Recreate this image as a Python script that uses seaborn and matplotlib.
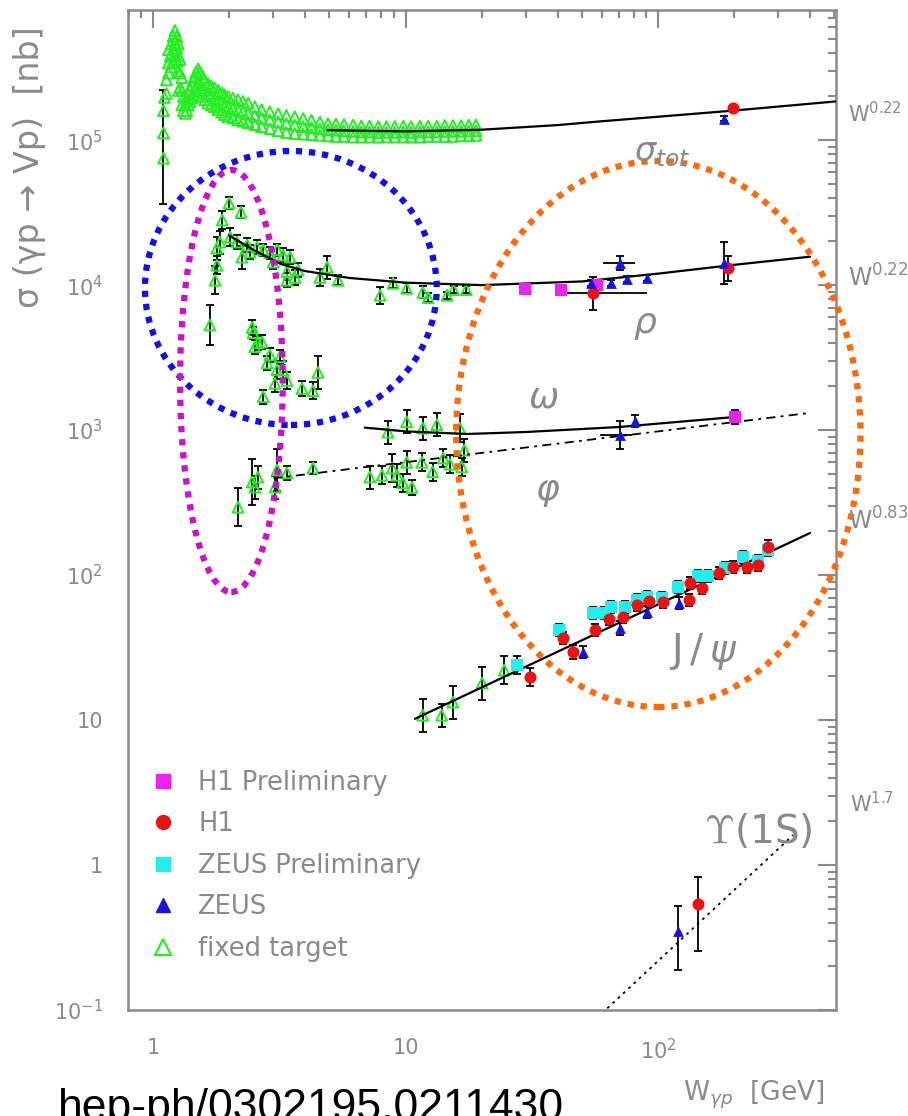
import numpy as np
import pandas as pd
import matplotlib
matplotlib.use("Agg")
import matplotlib.pyplot as plt
import matplotlib.ticker as mticker
from matplotlib.patches import Ellipse
from matplotlib.lines import Line2D
import seaborn as sns

# ---------------- data ----------------
# fixed-target total cross section, resonance region (W [GeV], sigma [nb])
tot_ft_peak = [(1.10, 7.5e4), (1.10, 1.12e5), (1.10, 1.6e5), (1.11, 1.97e5),
               (1.13, 2.6e5), (1.13, 2.1e5), (1.15, 3.4e5), (1.15, 4.2e5), (1.15, 2.9e5), (1.17, 3.8e5),
               (1.18, 4.6e5), (1.18, 3.2e5), (1.20, 5.2e5), (1.20, 4.2e5), (1.20, 3.5e5), (1.22, 5.7e5),
               (1.22, 4.7e5), (1.22, 3.9e5), (1.24, 5.2e5), (1.24, 4.3e5), (1.24, 3.5e5), (1.26, 4.6e5),
               (1.26, 3.8e5), (1.26, 3.0e5), (1.26, 2.2e5), (1.28, 3.6e5), (1.28, 2.9e5), (1.28, 2.3e5),
               (1.30, 2.7e5), (1.30, 2.2e5), (1.30, 1.75e5), (1.32, 2.0e5), (1.32, 1.6e5), (1.34, 1.75e5),
               (1.34, 1.53e5), (1.36, 1.9e5), (1.36, 1.6e5), (1.38, 2.1e5), (1.38, 1.75e5), (1.40, 2.25e5),
               (1.40, 1.85e5), (1.42, 2.4e5), (1.42, 1.95e5), (1.44, 2.55e5), (1.44, 2.05e5), (1.46, 2.75e5),
               (1.46, 2.2e5), (1.48, 2.95e5), (1.48, 2.3e5), (1.51, 3.1e5), (1.51, 2.5e5), (1.51, 2.0e5),
               (1.53, 2.95e5), (1.53, 2.3e5), (1.55, 2.85e5), (1.55, 2.2e5), (1.58, 2.7e5), (1.58, 2.1e5)]
# fixed-target total cross section, continuum: W, upper, middle and lower points of the band
tot_ft_band_w = [1.60, 1.65, 1.70, 1.75, 1.81, 1.87, 1.92, 1.98, 2.07, 2.17, 2.27, 2.38, 2.53, 2.69,
                 2.9, 3.13, 3.37, 3.64, 3.93, 4.24, 4.58, 4.93, 5.3, 5.7, 6.2, 6.68, 7.2, 7.8, 8.4,
                 9.06, 9.8, 10.5, 11.4, 12.3, 13.3, 14.3, 15.4, 16.6, 17.8, 19.0]
tot_ft_band_hi = [2.6e5, 2.45e5, 2.35e5, 2.3e5, 2.2e5, 2.12e5, 2.05e5, 2.0e5, 1.95e5, 1.9e5, 1.85e5,
                  1.8e5, 1.7e5, 1.62e5, 1.57e5, 1.52e5, 1.48e5, 1.45e5, 1.41e5, 1.37e5, 1.33e5, 1.3e5,
                  1.29e5, 1.28e5, 1.27e5, 1.25e5, 1.25e5, 1.24e5, 1.24e5, 1.24e5, 1.25e5, 1.24e5,
                  1.25e5, 1.25e5, 1.25e5, 1.26e5, 1.26e5, 1.26e5, 1.27e5, 1.27e5]
tot_ft_band_mid = [2.2e5, 2.1e5, 2.0e5, 1.95e5, 1.9e5, 1.82e5, 1.75e5, 1.7e5, 1.65e5, 1.6e5, 1.56e5,
                   1.52e5, 1.47e5, 1.42e5, 1.38e5, 1.34e5, 1.3e5, 1.27e5, 1.24e5, 1.22e5, 1.2e5, 1.18e5,
                   1.17e5, 1.16e5, 1.15e5, 1.14e5, 1.14e5, 1.13e5, 1.13e5, 1.13e5, 1.14e5, 1.13e5,
                   1.14e5, 1.14e5, 1.14e5, 1.15e5, 1.15e5, 1.15e5, 1.16e5, 1.16e5]
tot_ft_band_lo = [1.9e5, 1.8e5, 1.75e5, 1.7e5, 1.62e5, 1.56e5, 1.5e5, 1.45e5, 1.42e5, 1.38e5, 1.35e5,
                  1.32e5, 1.28e5, 1.24e5, 1.2e5, 1.16e5, 1.13e5, 1.11e5, 1.1e5, 1.09e5, 1.08e5, 1.07e5,
                  1.06e5, 1.06e5, 1.05e5, 1.05e5, 1.05e5, 1.05e5, 1.05e5, 1.05e5, 1.05e5, 1.05e5,
                  1.05e5, 1.06e5, 1.06e5, 1.06e5, 1.06e5, 1.07e5, 1.07e5, 1.08e5]
tot_ft_err = [(1.10, 7.5e4, 3.6e4, 2.2e5)]  # W, sigma, low, high

# fixed-target rho (W, sigma, relative error)
rho_ft = [(1.68, 5.3e3, 0.38), (1.76, 1.08e4, 0.25), (1.79, 1.37e4, 0.15), (1.79, 1.8e4, 0.2),
          (1.84, 1.98e4, 0.2), (1.88, 2.81e4, 0.15), (2.00, 3.68e4, 0.1), (2.23, 3.18e4, 0.1),
          (2.02, 2.14e4, 0.15), (2.15, 1.98e4, 0.12), (2.36, 1.89e4, 0.12), (2.42, 1.69e4, 0.12),
          (2.25, 1.56e4, 0.2), (2.58, 1.83e4, 0.12), (2.73, 1.75e4, 0.1), (2.9, 1.67e4, 0.1),
          (3.1, 1.75e4, 0.1), (3.27, 1.61e4, 0.12), (3.49, 1.56e4, 0.12), (2.99, 1.44e4, 0.12),
          (3.39, 1.24e4, 0.15), (3.75, 1.27e4, 0.12), (3.65, 1.13e4, 0.12), (3.39, 1.08e4, 0.12),
          (4.58, 1.13e4, 0.15), (4.89, 1.33e4, 0.2), (5.40, 1.08e4, 0.08), (7.93, 8.5e3, 0.15),
          (8.93, 1.03e4, 0.08), (10.1, 9.5e3, 0.08), (11.7, 8.9e3, 0.1), (12.3, 8.2e3, 0.08),
          (14.6, 8.5e3, 0.06), (15.5, 9.3e3, 0.06), (17.4, 9.3e3, 0.06)]

# fixed-target omega
omega_ft = [(2.47, 5.1e3, 0.12), (2.49, 4.7e3, 0.1), (2.60, 4.0e3, 0.12), (2.53, 3.75e3, 0.12),
            (2.70, 4.05e3, 0.12), (2.90, 3.3e3, 0.12), (2.83, 2.9e3, 0.12), (3.1, 2.6e3, 0.15),
            (3.04, 2.1e3, 0.15), (3.18, 3.2e3, 0.12), (3.27, 2.6e3, 0.15), (3.39, 2.2e3, 0.15),
            (2.73, 1.7e3, 0.12), (3.89, 1.94e3, 0.12), (4.3, 1.87e3, 0.15), (4.5, 2.5e3, 0.3),
            (8.51, 968, 0.2), (10.1, 1.14e3, 0.2), (11.7, 1.03e3, 0.2), (13.3, 1.09e3, 0.2),
            (16.4, 1.03e3, 0.25)]

# fixed-target phi
phi_ft = [(2.17, 294, 0.35), (2.47, 438, 0.45), (2.6, 474, 0.2), (2.53, 404, 0.2), (3.1, 530, 0.4),
          (3.04, 404, 0.2), (3.39, 507, 0.12), (4.3, 547, 0.1), (7.22, 474, 0.2), (8.07, 488, 0.15),
          (8.85, 547, 0.25), (9.25, 488, 0.2), (10.1, 600, 0.2), (9.75, 432, 0.15), (10.6, 402, 0.12),
          (11.6, 600, 0.15), (12.8, 516, 0.15), (14.1, 642, 0.15), (15.0, 581, 0.15), (16.7, 558, 0.15),
          (17.1, 727, 0.2)]

# fixed-target J/psi
jpsi_ft = [(11.7, 10.8, 0.3), (13.9, 10.8, 0.2), (15.4, 13.3, 0.3), (20.1, 18.0, 0.3), (24.6, 22.1, 0.25)]

# H1 (W, sigma, relative error)
h1 = [(199, 1.66e5, 0.04), (55.3, 8.8e3, 0.3), (189, 1.31e4, 0.22),
      (31.0, 19.8, 0.15), (42.1, 36.8, 0.1), (46.0, 29.4, 0.12), (56.3, 41.8, 0.1), (64.2, 49.8, 0.1),
      (72.6, 51.3, 0.1), (82.6, 62.5, 0.1), (92.1, 66.2, 0.1), (105, 65.2, 0.1), (133, 67.3, 0.1),
      (134, 88.1, 0.1), (149, 81.3, 0.1), (175, 103, 0.1), (198, 114, 0.1), (225, 114, 0.1),
      (249, 117, 0.1), (273, 156, 0.12)]
h1_ups = [(144, 0.54, 0.255, 0.83)]
h1_xbins = [(55.3, 8.8e3, 42.9, 90.3)]

# H1 preliminary
h1_prel = [(29.8, 9.4e3, 0.05), (41.2, 9.3e3, 0.05), (57.3, 1.0e4, 0.05), (202, 1.23e3, 0.12)]

# ZEUS preliminary
zeus_prel = [(27.6, 23.9, 0.15), (40.5, 41.8, 0.1), (55.3, 54.7, 0.1), (61.2, 54.7, 0.1),
             (65.2, 60.1, 0.1), (74.2, 60.1, 0.1), (82.6, 67.3, 0.1), (90.3, 70.5, 0.1),
             (104, 69.4, 0.1), (120, 82.7, 0.1), (144, 98.4, 0.1), (158, 98.4, 0.1),
             (185, 112, 0.1), (217, 133, 0.1), (249, 125, 0.1), (273, 150, 0.1)]

# ZEUS
zeus = [(183, 1.40e5, 0.04), (54.3, 1.03e4, 0.05), (65.2, 1.03e4, 0.05), (70.6, 1.42e4, 0.12),
        (75.5, 1.10e4, 0.05), (90.3, 1.12e4, 0.05), (182, 1.42e4, 0.4),
        (70.6, 925, 0.25), (81.1, 1.15e3, 0.1),
        (50.5, 29.4, 0.1), (70.6, 43.1, 0.12), (90.3, 55.6, 0.1), (121, 64.2, 0.1)]
zeus_ups = [(120, 0.35, 0.19, 0.52)]
zeus_xbins = [(70.6, 1.42e4, 60.6, 80.9), (70.6, 925, 59.0, 79.0)]

# fitted curves
fit_tot = [(4.9, 1.17e5), (10, 1.15e5), (20, 1.18e5), (40, 1.27e5), (60, 1.35e5),
           (100, 1.45e5), (200, 1.6e5), (507, 1.85e5)]
fit_rho = [(2.0, 2.2e4), (2.5, 1.75e4), (3.2, 1.4e4), (4.0, 1.25e4), (6.0, 1.12e4), (10, 1.04e4),
           (20, 1.0e4), (50, 1.06e4), (100, 1.2e4), (200, 1.38e4), (400, 1.57e4)]
fit_omega = [(6.9, 1.04e3), (10, 0.98e3), (17.5, 0.94e3), (30, 0.97e3), (70, 1.05e3), (200, 1.23e3)]
fit_phi = [(3.0, 465), (393, 1310)]
fit_jpsi = [(10.9, 10.2), (400, 195)]
fit_ups = [(60, 0.095), (343, 1.61)]

# ---------------- style ----------------
sns.set_theme(style="white")
plt.rcParams['font.family'] = ['DejaVu Sans']
plt.rcParams['mathtext.fontset'] = 'dejavusans'

GRAY = '#8a8a8a'
GREEN = '#22ee22'
MAGENTA = '#ee22ee'
RED = '#ee1111'
CYAN = '#22eeee'
BLUE = '#1414dd'

W, H = 908, 1116
fig = plt.figure(figsize=(W / 100, H / 100), dpi=100)
ax = fig.add_axes([128 / W, 1 - 1010 / H, 708 / W, 1000 / H])
ax.set_xscale('log')
ax.set_yscale('log')
ax.set_xlim(0.796, 507)
ax.set_ylim(0.1, 7.9e5)


def cols(rows, n):
    return [np.array([r[i] for r in rows], dtype=float) for i in range(n)]


def rel_errbars(rows, zorder=2):
    w, s, e = cols(rows, 3)
    ax.errorbar(w, s, yerr=[s - s / (1 + e), s * e], fmt='none', ecolor='black',
                elinewidth=1.3, capsize=3, capthick=1.3, zorder=zorder)


def abs_errbars(rows, zorder=2):
    w, s, lo, hi = cols(rows, 4)
    ax.errorbar(w, s, yerr=[s - lo, hi - s], fmt='none', ecolor='black',
                elinewidth=1.3, capsize=3, capthick=1.3, zorder=zorder)


def x_bins(rows):
    w, s, lo, hi = cols(rows, 4)
    ax.errorbar(w, s, xerr=[w - lo, hi - w], fmt='none', ecolor='black',
                elinewidth=1.3, capsize=0, zorder=2)


def curve(rows, dashes=None, lw=1.6):
    w, s = cols(rows, 2)
    sns.lineplot(x=w, y=s, ax=ax, color='black', linewidth=lw,
                 estimator=None, sort=False, zorder=4)
    if dashes is not None:
        ax.lines[-1].set_dashes(dashes)


curve(fit_tot)
curve(fit_rho)
curve(fit_omega)
curve(fit_phi, dashes=[5, 3, 1.5, 3], lw=1.3)
curve(fit_jpsi)
curve(fit_ups, dashes=[1.5, 2.5], lw=1.3)

# error bars
abs_errbars(tot_ft_err)
for grp in (rho_ft, omega_ft, phi_ft, jpsi_ft, h1, h1_prel, zeus_prel, zeus):
    rel_errbars(grp)
abs_errbars(h1_ups)
abs_errbars(zeus_ups)
x_bins(h1_xbins)
x_bins(zeus_xbins)

# fixed-target open triangles
ft_w = ([r[0] for r in tot_ft_peak] + tot_ft_band_w * 3 + [r[0] for r in rho_ft] +
        [r[0] for r in omega_ft] + [r[0] for r in phi_ft] + [r[0] for r in jpsi_ft])
ft_s = ([r[1] for r in tot_ft_peak] + tot_ft_band_hi + tot_ft_band_mid + tot_ft_band_lo +
        [r[1] for r in rho_ft] + [r[1] for r in omega_ft] + [r[1] for r in phi_ft] +
        [r[1] for r in jpsi_ft])
sns.scatterplot(x=ft_w, y=ft_s, ax=ax, marker='^', s=60, facecolor='none',
                edgecolor=GREEN, linewidth=1.4, zorder=3)

# collider points
sns.scatterplot(x=[r[0] for r in zeus_prel], y=[r[1] for r in zeus_prel], ax=ax, marker='s', s=80,
                color=CYAN, edgecolor=CYAN, linewidth=0, zorder=5)
sns.scatterplot(x=[r[0] for r in h1_prel], y=[r[1] for r in h1_prel], ax=ax, marker='s', s=70,
                color=MAGENTA, edgecolor=MAGENTA, linewidth=0, zorder=5)
sns.scatterplot(x=[r[0] for r in h1] + [r[0] for r in h1_ups],
                y=[r[1] for r in h1] + [r[1] for r in h1_ups], ax=ax, marker='o', s=75,
                color=RED, edgecolor=RED, linewidth=0, zorder=6)
sns.scatterplot(x=[r[0] for r in zeus] + [r[0] for r in zeus_ups],
                y=[r[1] for r in zeus] + [r[1] for r in zeus_ups], ax=ax, marker='^', s=60,
                color=BLUE, edgecolor=BLUE, linewidth=0, zorder=6)

# ---------------- axes styling ----------------
for sp in ax.spines.values():
    sp.set_color(GRAY)
    sp.set_linewidth(1.8)
ax.xaxis.set_major_locator(mticker.LogLocator(base=10, numticks=20))
ax.yaxis.set_major_locator(mticker.LogLocator(base=10, numticks=20))
ax.xaxis.set_minor_locator(mticker.LogLocator(base=10, subs=np.arange(2, 10), numticks=100))
ax.yaxis.set_minor_locator(mticker.LogLocator(base=10, subs=np.arange(2, 10), numticks=100))


def dec_fmt(v, pos):
    e = int(round(np.log10(v)))
    if e == 0:
        return '1'
    if e == 1:
        return '10'
    return r'$10^{%d}$' % e


ax.xaxis.set_major_formatter(mticker.FuncFormatter(dec_fmt))
ax.yaxis.set_major_formatter(mticker.FuncFormatter(dec_fmt))
ax.xaxis.set_minor_formatter(mticker.NullFormatter())
ax.yaxis.set_minor_formatter(mticker.NullFormatter())
ax.tick_params(which='both', direction='in', top=True, right=True, color=GRAY, labelcolor=GRAY)
ax.tick_params(which='major', length=13, width=1.5, labelsize=15)
ax.tick_params(which='minor', length=6, width=1.5)
ax.tick_params(axis='y', which='major', pad=18)
ax.tick_params(axis='x', which='major', pad=20)
ax.grid(False)

# legend
handles = [
    Line2D([], [], marker='s', linestyle='none', color=MAGENTA, markersize=10),
    Line2D([], [], marker='o', linestyle='none', color=RED, markersize=10),
    Line2D([], [], marker='s', linestyle='none', color=CYAN, markersize=10),
    Line2D([], [], marker='^', linestyle='none', color=BLUE, markersize=10),
    Line2D([], [], marker='^', linestyle='none', markerfacecolor='none',
           markeredgecolor=GREEN, markeredgewidth=1.5, markersize=12),
]
labels = ['H1 Preliminary', 'H1', 'ZEUS Preliminary', 'ZEUS', 'fixed target']
ax.legend(handles, labels, loc='upper left', bbox_to_anchor=(0.03, 0.24), frameon=False,
          fontsize=18.5, labelcolor=GRAY, handlelength=1.1, handletextpad=0.8,
          labelspacing=0.6, borderaxespad=0, borderpad=0)


# ---------------- annotations (figure pixel positions) ----------------
def fx(px):
    return px / W


def fy(py):
    return 1 - py / H


fig.text(fx(30), fy(167), 'σ (γp → Vp)  [nb]', rotation=90, ha='center', va='center',
         color=GRAY, fontsize=24)
fig.text(fx(683), fy(1095), r'W$_{\gamma p}$  [GeV]', ha='left', va='center', color=GRAY, fontsize=19)
fig.text(fx(58), fy(1120), 'hep-ph/0302195,0211430', ha='left', va='baseline', color='black',
         fontsize=32, family=['Liberation Sans', 'DejaVu Sans'])

fig.text(fx(848), fy(122), r'$\mathrm{W}^{0.22}$', ha='left', va='baseline', color=GRAY, fontsize=15)
fig.text(fx(848), fy(287), r'$\mathrm{W}^{0.22}$', ha='left', va='baseline', color=GRAY, fontsize=17)
fig.text(fx(848), fy(530), r'$\mathrm{W}^{0.83}$', ha='left', va='baseline', color=GRAY, fontsize=17)
fig.text(fx(850), fy(812), r'$\mathrm{W}^{1.7}$', ha='left', va='baseline', color=GRAY, fontsize=15)

fig.text(fx(662), fy(153), r'$\sigma_{tot}$', ha='center', va='center', color=GRAY, fontsize=24)
fig.text(fx(645), fy(325), r'$\rho$', ha='center', va='center', color=GRAY, fontsize=26)
fig.text(fx(543), fy(397), r'$\omega$', ha='center', va='center', color=GRAY, fontsize=26)
fig.text(fx(548), fy(492), r'$\varphi$', ha='center', va='center', color=GRAY, fontsize=26)
fig.text(fx(704), fy(652), r'$\mathrm{J}\,/\,\psi$', ha='center', va='center', color=GRAY, fontsize=28)
fig.text(fx(758), fy(831), r'$\Upsilon$(1S)', ha='center', va='center', color=GRAY, fontsize=28,
         math_fontfamily='cm')

# dotted ellipses highlighting regions (axes-fraction coordinates)
ell = [((0.230, 0.722), 0.412, 0.274, '#1010ee'),
       ((0.146, 0.629), 0.145, 0.422, '#cc11cc'),
       ((0.749, 0.576), 0.571, 0.546, '#ff6a0a')]
for (c, w_, h_, col) in ell:
    e = Ellipse(c, w_, h_, transform=ax.transAxes, fill=False, edgecolor=col,
                linewidth=4.5, linestyle=(0, (1, 1.1)), clip_on=False, zorder=7)
    ax.add_patch(e)

fig.savefig('out.png', dpi=100)
